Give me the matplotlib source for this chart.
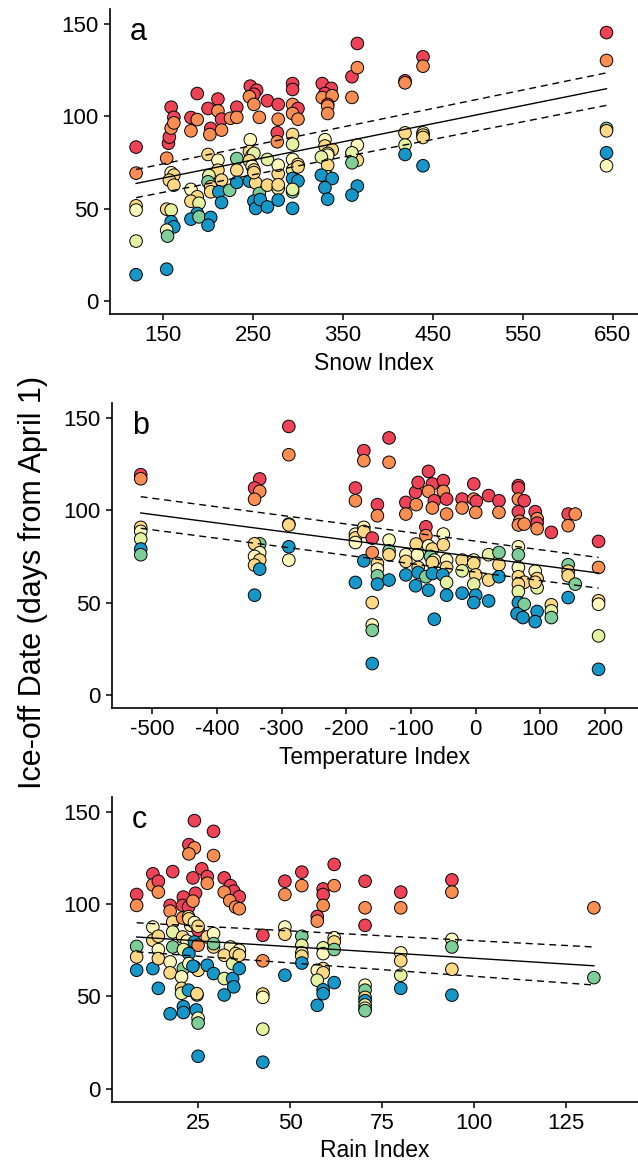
import matplotlib
matplotlib.use("Agg")
import numpy as np
import matplotlib.pyplot as plt

plt.rcParams["font.family"] = ["Liberation Sans", "DejaVu Sans"]

# lake colour codes
LAKE_COLORS = {
    "R": "#EE4357",
    "O": "#F98E52",
    "L": "#FDD985",
    "P": "#FFF9BE",
    "Y": "#E3F1A0",
    "G": "#7FCD99",
    "B": "#1796C8",
}

# ---- panel a: snow index ----
snow_x = [120, 120, 120, 120, 120, 120,
          159, 162, 156, 157, 159, 162, 154, 159, 162, 157, 162, 154, 159, 159, 162, 154, 155, 154,
          188, 181, 188, 181, 181, 188, 181, 190, 188, 181, 190,
          200, 211, 211, 215, 203, 202, 215, 200, 211, 211, 201, 200, 215, 203, 203, 212, 224, 215, 203, 200,
          232, 225, 232, 232, 232, 232,
          247, 254, 251, 246, 251, 257, 247, 246, 249, 251, 246, 249, 251, 246, 253, 251, 257, 251, 253, 258,
          266, 278, 278, 277, 277, 266, 278, 278, 266, 278, 278, 266, 278,
          294, 294, 294, 300, 294, 300, 294, 294, 294, 300, 294, 300, 294, 300, 294, 294, 294,
          327, 337, 330, 327, 338, 333, 333, 333, 330, 330, 338, 333, 333, 326, 333, 333, 326, 338, 330, 333,
          360, 366, 366, 360, 366, 360, 366, 360, 360, 366, 360,
          419, 419, 419, 419, 419,
          439, 439, 439, 439, 439, 439,
          643, 643, 643, 643, 643, 643]
snow_y = [83.4, 69.3, 51.6, 49.3, 32.5, 14.3,
          105, 99.5, 85.5, 88.8, 93.7, 96.5, 77.4, 69.5, 68.2, 65.5, 62.8, 49.8, 49.3, 43, 40.2, 38.4, 35.2, 17.3,
          112.4, 99.4, 98.3, 92.2, 60.5, 56.5, 54.1, 53, 47.5, 44.4, 45.6,
          104.3, 109.4, 103, 98.5, 93.5, 90.2, 92.6, 79.4, 76.3, 70.9, 68, 64.6, 65.5, 61.9, 59.2, 59.2, 60, 53.4, 45.3, 41.1,
          105, 99, 99.5, 77.2, 70.9, 64.3,
          116.4, 114.2, 112, 110.7, 106.5, 99.5, 87.4, 81, 79, 80, 76, 73, 71, 65, 64, 69.6, 58.3, 54.1, 50.2, 55,
          108.5, 106.5, 98.5, 91.2, 86.3, 76.7, 69, 73.6, 62.8, 61, 63, 51, 54.7,
          117.8, 114.6, 106.5, 104.3, 101.6, 98.5, 90.2, 85, 76.7, 74, 71, 72.7, 66.4, 65.1, 59.2, 60.5, 50.2,
          117.8, 115.2, 112.4, 110.2, 111.2, 106.5, 105.6, 101.6, 87.4, 84, 82, 80, 79, 78, 73.6, 67.3, 68.2, 66.4, 61.4, 55.2,
          121.5, 126.4, 139.5, 110.3, 84.5, 80, 76.3, 80.3, 74.9, 62.3, 57.4,
          119.3, 118.2, 91.1, 84.5, 79.4,
          132.3, 127.2, 91.1, 89.9, 88.6, 73.3,
          145.4, 130.3, 93.5, 92.2, 80.3, 73.3]
snow_lake = list("ROLPYB"
                 "RRRROOOPLLLLYBBPGB"
                 "RROOPLLYBBG"
                 "RRORROOLPLYGLLLBGBBB"
                 "ROOGLB"
                 "RRROOOPLPYLPLBLLGBBB"
                 "RROROYLPLYLBB"
                 "RROROOLYPLYLBBGYB"
                 "RRROOROOPLLYPYLYBBBB"
                 "ROROPLLYGBB"
                 "ROLYB"
                 "ROPLLB"
                 "ROGLBP")

# ---- panel b: temperature index ----
temp_x = [-518, -518, -518, -518, -518, -518, -518,
          -334, -342, -334, -342, -334, -342, -334, -342, -334, -342, -334, -342,
          -289, -289, -289, -289, -289, -289,
          -186, -186, -173, -173, -186, -186, -186, -173, -173, -186, -173,
          -160, -152, -152, -160, -152, -152, -152, -152, -160, -160, -160, -160,
          -134, -134, -134, -134, -134, -134,
          -108, -108, -93, -89, -92, -108, -108, -92, -90, -89, -108, -93, -89,
          -73, -67, -73, -64, -67, -77, -77, -73, -67, -70, -64, -67, -77, -67, -73, -64,
          -50, -50, -45, -45, -50, -50, -45, -45, -51, -45, -45,
          -21, -21, -21, -21, -21,
          -3, -3, 1, 0, -3, -3, 0, -3, 0, -3,
          20, 20, 20, 20,
          36, 36, 36, 36, 36,
          66, 66, 66, 75, 66, 68, 66, 75, 66, 66, 66, 66, 75, 66, 66, 66, 75, 64, 73,
          92, 95, 95, 95, 92, 95, 95, 92, 95, 92,
          117, 117, 117, 117,
          143, 154, 143, 143, 143, 143, 154, 143,
          190, 190, 190, 190, 190, 190]
temp_y = [119.2, 117, 90.7, 88.5, 84.4, 79, 75.9,
          116.9, 112, 110.2, 105.9, 81.8, 81.8, 77, 75, 73, 70.3, 68.1, 54,
          145.3, 130, 92.5, 92, 80.2, 73,
          112, 105.1, 132.2, 126.8, 87, 85, 82.5, 90.7, 88.5, 60.9, 72.6,
          84.9, 103, 97, 77.1, 71.2, 68.1, 64.5, 60, 50, 37.9, 35, 17,
          139.1, 125.9, 83.8, 78, 75.9, 62.2,
          104.2, 97.9, 109.7, 115, 103, 75.9, 72.3, 81.7, 75.9, 69, 65, 59.1, 66.3,
          121, 114.2, 110.2, 105.1, 101.2, 91, 86.2, 80.7, 79, 75, 73, 71.7, 64, 65.7, 56.7, 41,
          116, 110.2, 106, 97.9, 87.1, 81.3, 73, 69, 65, 60.9, 54,
          106, 101.2, 73, 67.2, 55.1,
          114.2, 106, 104.8, 98.8, 73, 71.2, 65, 60, 54, 50,
          107.9, 75.9, 62.2, 50.9,
          105.1, 98.8, 77.1, 70.5, 64,
          113.3, 112, 106, 105.1, 99.2, 94, 92, 92.5, 80.2, 75.9, 69, 64, 61, 60, 56, 50, 49.1, 44, 41.9,
          99.2, 95.4, 93, 90, 67, 63, 58, 61, 45.2, 39.7,
          88, 48.8, 45.5, 41.9,
          97.9, 97.9, 91.6, 70.5, 67, 64.5, 60, 52.7,
          83.1, 69, 51, 49.1, 32, 13.9]
temp_lake = list("ROLPYBG"
                 "RROOGLPPLLBB"
                 "ROGLBP"
                 "ROROPLPPLBB"
                 "RROOLPGBLPGB"
                 "ROPGLB"
                 "RORROPLLPLBBB"
                 "RRORORO" "PLGPLG" "BBB"
                 "ROROPLPLBYB"
                 "ROLYB"
                 "ROROPLLYBB"
                 "RYLB"
                 "ROGLB"
                 "RRORROOO" "PGPLLLY" "BGBB"
                 "ROROPLYLBB"
                 "RLYG"
                 "ROOGLLGB"
                 "ROLPYB")

# ---- panel c: rain index ----
rain_x = [8.3, 8.3, 8.3, 8.3, 8.3,
          12.7, 12.7, 12.7, 12.7, 12.7,
          14.2, 14.2, 14.2, 14.2, 14.2, 14.2,
          18.1, 17.4, 17.4, 18.1, 18.1, 18.1, 17.4, 17.4, 17.4,
          21, 20.8, 22.4, 20.8, 22.4, 23, 20.8, 22, 21, 21, 20.5, 20.5, 20.5, 21, 21, 22.4,
          24, 22.5, 24, 22.5, 23.6, 24.3, 23.6, 25, 22.5, 24, 25, 24, 25, 22.5, 22.5, 24, 25, 23.6,
          24.7, 24.7, 24.5, 25, 25, 25,
          26, 29.2, 29.2, 27.5, 27.5, 27.5, 29.2, 29.2, 29.2, 27.5, 29.2,
          32.1, 33.8, 34.7, 36.2, 32.1, 33.6, 35.2, 36.2, 33.8, 32.1, 36.2, 35.2, 34.4, 36.2, 32.1,
          34.4, 34.7, 36.2, 32.1,
          42.6, 42.6, 42.6, 42.6, 42.6, 42.6,
          48.6, 48.6, 48.6, 48.6, 48.6,
          53.2, 53.2, 53.2, 53.2, 53.2, 53.2, 53.2,
          59, 59, 59, 57.4, 57.4, 59, 59, 59, 57.4, 59, 57.4, 59, 59, 57.4,
          62, 62, 62, 62, 62, 62,
          70.4, 70.4, 70.4, 70.4, 70.4, 70.4, 70.4, 70.4, 70.4, 70.4,
          80.1, 80.1, 80.1, 80.1, 80.1, 80.1,
          94, 94, 94, 94, 94, 94,
          132.6, 132.6]
rain_y = [105.2, 99.3, 77.1, 71.4, 64.2,
          116.4, 110.4, 87.6, 80.4, 65.1,
          112.4, 106.5, 82.6, 75.4, 70.5, 54.4,
          117.6, 99.3, 96.2, 90.3, 84.9, 76.8, 68.7, 62.8, 40.6,
          103.8, 99.3, 98.4, 92.5, 93.2, 88.5, 82.2, 80, 75.4, 65.1, 60.6, 54.4, 51.7, 44.5, 41.3, 53.4,
          145.2, 132.2, 130.4, 127.2, 114.2, 105.9, 101.6, 85.8, 92, 90, 88, 79.5, 77.7, 73.2, 67.8, 66, 64.2, 66.4,
          50.8, 51.5, 42.7, 38.2, 35.6, 17.6,
          119.1, 139.4, 126.3, 114.9, 111.3, 82.2, 84, 76.8, 78.6, 66.9, 62.4,
          114.2, 110, 107, 104, 106.5, 101.9, 98.4, 97.5, 76.8, 72.3, 75, 73.2, 67.8, 72.3, 59.7,
          59.7, 55.2, 65.1, 50.8,
          83.1, 69.3, 51.3, 49.5, 32.3, 14.4,
          112.4, 105.2, 87.6, 83.7, 61.5,
          117.3, 110, 82.6, 77.7, 73.6, 71.8, 68.1,
          108.2, 105.2, 99.3, 93.3, 90.8, 76.3, 73.2, 65.1, 64.2, 62.8, 58.8, 53.6, 51.5, 45.2,
          121.5, 110, 81.8, 79.5, 75.4, 57.5,
          112.4, 98, 88.5, 56.1, 53.4, 49.5, 47.7, 45.4, 43.6, 42.3,
          106.5, 98, 73.6, 69.3, 61.5, 54.4,
          113.1, 106.5, 80.9, 76.8, 64.7, 50.7,
          98, 60.2]
rain_lake = list("ROGLB"
                 "ROPLB"
                 "ROLPLB"
                 "RROLYGPLB"
                 "RRROLPLPYGPLYBBB"
                 "RROORROR" "LPL" "BOBPLLB"
                 "GLBPGB"
                 "RRORO" "LPLG" "BB"
                 "RRRROOOOPLPLYLY"
                 "BBBB"
                 "ROLPYB"
                 "ROPLB"
                 "ROGYPLB"
                 "RRORO" "YPLPLY" "BBB"
                 "ROPLGB"
                 "RORPGLBYPG"
                 "ROPLYB"
                 "ROPGLB"
                 "OG")

# fitted trend (solid) and band (dashed): (intercept, slope)
fit_snow = {"mid": (51.93, 0.0981), "up": (59.3, 0.100), "lo": (44.53, 0.0956)}
fit_temp = {"mid": (74.72, -0.0459), "up": (83.23, -0.04647), "lo": (66.49, -0.04576)}
fit_rain = {"mid": (83.24, -0.1255), "up": (90.77, -0.1054), "lo": (75.4, -0.1448)}

panels = [
    ("a", "Snow Index", snow_x, snow_y, snow_lake, fit_snow,
     (91, 678), [150, 250, 350, 450, 550, 650], [0.1724, 0.7302, 0.8276, 0.2618]),
    ("b", "Temperature Index", temp_x, temp_y, temp_lake, fit_temp,
     (-563, 251), [-500, -400, -300, -200, -100, 0, 100, 200], [0.1750, 0.3918, 0.8250, 0.2620]),
    ("c", "Rain Index", rain_x, rain_y, rain_lake, fit_rain,
     (1.5, 144.6), [25, 50, 75, 100, 125], [0.1750, 0.0535, 0.8250, 0.2618]),
]

fig = plt.figure(figsize=(6.38, 11.64), dpi=100)

for letter, xlabel, xs, ys, lakes, fit, xlim, xticks, rect in panels:
    ax = fig.add_axes(rect)
    n = min(len(xs), len(ys), len(lakes))
    cols = [LAKE_COLORS[c] for c in lakes[:n]]
    ax.scatter(xs[:n], ys[:n], s=82, c=cols, edgecolors="black", linewidths=0.7, zorder=3)

    xx = np.array([min(xs), max(xs)])
    for key, ls in (("mid", "-"), ("up", (0, (5, 3.5))), ("lo", (0, (5, 3.5)))):
        b0, b1 = fit[key]
        ax.plot(xx, b0 + b1 * xx, color="black", linestyle=ls, linewidth=1.0, zorder=4)

    ax.set_xlim(*xlim)
    ax.set_ylim(-7, 158)
    ax.set_xticks(xticks)
    ax.set_xticklabels([str(t) for t in xticks])
    ax.set_yticks([0, 50, 100, 150])
    ax.set_xlabel(xlabel, fontsize=16.5, labelpad=4)
    ax.tick_params(labelsize=16, length=4.5, width=1.1, direction="out")
    for side in ("top", "right"):
        ax.spines[side].set_visible(False)
    for side in ("left", "bottom"):
        ax.spines[side].set_linewidth(1.2)
    ax.text(0.038, 0.975, letter, transform=ax.transAxes, fontsize=22, va="top", ha="left")

fig.text(0.052, 0.5, "Ice-off Date (days from April 1)", rotation=90,
         fontsize=22, ha="center", va="center")

fig.savefig("out.png", dpi=100)
